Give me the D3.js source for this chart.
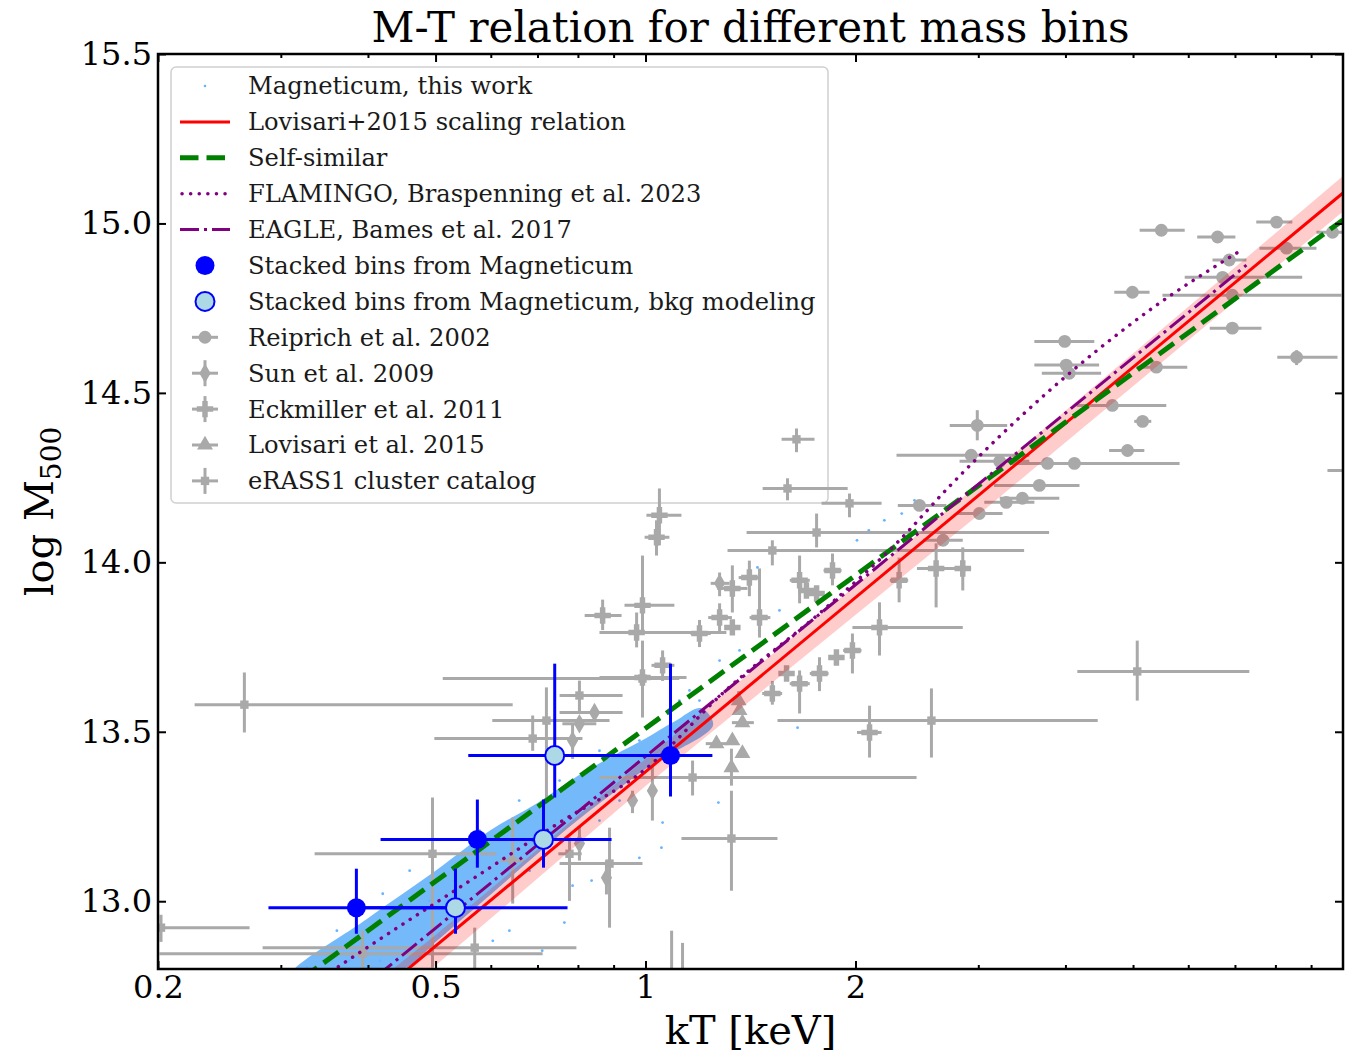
<!DOCTYPE html>
<html><head><meta charset="utf-8">
<script src="https://cdn.jsdelivr.net/npm/d3@7"></script>
<style>body{margin:0;background:#fff}text{font-family:"DejaVu Serif",serif}</style>
</head><body>
<svg id="chart" width="1345" height="1053"></svg>
<script>
// ---------------- DATA ----------------
const xMajorTicks = [0.2, 0.5, 1, 2];
const xMinorTicks = [0.3, 0.4, 0.6, 0.7, 0.8, 0.9, 3, 4, 5, 6, 7, 8, 9];
const yTicks = [13.0, 13.5, 14.0, 14.5, 15.0, 15.5];

// Lovisari+2015 scaling relation (kT, logM) and its band
const lovisariT = [0.2, 10];
const lovisariM = [12.188, 15.09];
const lovBandT  = [0.2, 0.5, 1, 3, 10];
const lovBandLo = [12.12, 12.81, 13.34, 14.14, 15.035];
const lovBandHi = [12.25, 12.90, 13.42, 14.23, 15.14];
// Self-similar
const selfSimT = [0.3, 10];
const selfSimM = [12.726, 15.01];
// FLAMINGO (dotted)
const flamingoT = [0.33, 0.4, 0.55, 0.75, 1.0, 1.3, 1.8, 2.3, 2.73, 5.28, 7.2];
const flamingoM = [12.75, 12.865, 13.05, 13.23, 13.39, 13.62, 13.86, 14.06, 14.225, 14.744, 14.925];
// EAGLE (dash-dot)
const eagleT = [0.38, 7.27];
const eagleM = [12.72, 14.877];

// Magneticum dense cloud outline (kT, logM)
const cloudUpperT = [0.31, 0.4, 0.5, 0.6, 0.7, 0.8, 0.9, 1.0, 1.1, 1.2];
const cloudUpperM = [12.78, 12.95, 13.09, 13.21, 13.29, 13.37, 13.43, 13.48, 13.53, 13.57];
const cloudLowerT = [1.25, 1.1, 1.0, 0.9, 0.8, 0.7, 0.6, 0.5, 0.45];
const cloudLowerM = [13.52, 13.44, 13.39, 13.32, 13.24, 13.14, 13.02, 12.88, 12.80];
// Magneticum sparse haloes
const magT = [0.361,0.327,0.42,0.638,0.604,0.711,0.765,0.786,0.837,0.98,1.054,1.058,1.272,1.652,1.447,2.01,2.33,2.09,2.20,2.43,1.195,1.156,1.277,1.364,1.456,1.556,1.718,0.532,0.49,0.474,0.507,0.56,0.682,0.859,0.918,0.416,0.376,0.352,0.389,0.459,0.578,0.659,0.753,0.859,0.98,1.047,1.118];
const magM = [12.913,12.804,13.022,12.913,12.883,12.854,12.937,13.046,13.061,13.128,13.158,13.232,13.291,13.512,13.985,14.065,14.144,14.094,14.124,14.183,13.592,13.622,13.71,13.74,13.799,13.858,13.917,13.061,13.001,12.84,12.898,12.987,13.09,13.238,13.297,12.824,12.824,12.839,12.972,13.09,13.208,13.297,13.356,13.444,13.474,13.459,13.592];

// Stacked bins: [kT, logM, kTlo, kThi, Mlo, Mhi]
const stackedBins = [
  [0.385, 12.981, 0.288, 0.52, 12.904, 13.096],
  [0.574, 13.182, 0.417, 0.72, 13.099, 13.300],
  [1.086, 13.430, 0.90, 1.247, 13.309, 13.701]
];
const stackedBinsBkg = [
  [0.534, 12.981, 0.385, 0.773, 12.904, 13.096],
  [0.714, 13.182, 0.57, 0.894, 13.099, 13.300],
  [0.741, 13.430, 0.557, 1.0, 13.306, 13.701]
];

// Observational samples: [kT, logM, kTlo, kThi, Mlo, Mhi]
const reiprich2002 = [
  [5.49,14.98,5.11,5.93,null,null],[6.61,14.96,6.18,7.01,null,null],[8.03,15.004,7.51,8.46,null,null],
  [4.99,14.797,4.70,5.28,null,null],[3.99,14.652,3.61,4.40,null,null],[6.94,14.691,6.44,7.64,null,null],
  [8.58,14.605,8.05,9.82,14.582,14.626],[5.40,14.576,5.06,5.98,null,null],[4.67,14.463,4.15,5.58,null,null],
  [5.16,14.416,5.02,5.31,null,null],[4.91,14.33,4.62,5.19,null,null],[6.87,14.892,6.50,7.27,null,null],
  [6.72,14.841,5.93,8.74,null,null],[6.94,14.788,5.51,9.95,null,null],[8.30,14.927,7.59,9.16,null,null],
  [9.66,14.974,9.16,10.56,null,null],[4.01,14.582,3.61,4.47,null,null],[4.05,14.558,3.70,4.50,null,null],
  [4.12,14.292,3.92,5.83,null,null],[3.77,14.292,3.33,3.99,null,null],[3.67,14.227,3.16,4.19,null,null],
  [3.29,14.177,3.06,3.61,null,null],[3.47,14.189,3.22,3.92,null,null],[2.99,14.404,2.73,3.30,14.36,14.449],
  [3.22,14.298,2.82,3.55,null,null],[10.56,14.271,9.50,12.05,null,null],[2.93,14.316,2.29,3.55,null,null],
  [2.47,14.168,2.30,2.70,null,null],[2.67,14.065,2.50,2.85,null,null],[3.01,14.144,2.80,3.25,null,null]
];
const sun2009 = [
  [0.786,13.474,null,null,13.42,13.52],[0.804,13.524,0.76,0.85,null,null],[0.845,13.557,0.753,0.927,null,null],
  [1.023,13.326,null,null,13.238,13.429],[0.958,13.297,null,null,13.26,13.326],[0.879,13.069,null,null,13.02,13.12],
  [0.804,13.17,null,null,13.12,13.22],[1.277,13.938,1.24,1.32,13.90,13.97]
];
const eckmiller2011 = [
  [1.047,14.139,1.003,1.126,14.05,14.218],[1.037,14.074,0.997,1.082,14.02,14.124],[0.99,13.873,0.933,1.10,13.79,14.02],
  [0.971,13.793,0.859,1.306,13.749,13.852],[0.99,13.66,0.859,1.145,13.613,13.734],[1.058,13.696,1.02,1.10,13.65,13.74],
  [0.868,13.843,0.818,0.924,13.80,13.89],[1.195,13.79,1.16,1.24,13.75,13.83],[1.332,13.923,1.268,1.40,13.852,13.991],
  [1.409,13.955,1.36,1.46,13.90,14.005],[1.457,13.837,1.41,1.51,13.778,13.982],[1.277,13.837,1.23,1.33,13.79,13.879],
  [1.332,13.808,null,null,null,null],[1.663,13.947,1.61,1.72,13.879,14.02],[1.701,13.917,null,null,null,null],
  [1.854,13.976,1.80,1.91,13.932,14.026],[1.759,13.908,null,null,null,null],[2.165,13.808,1.98,2.85,13.725,13.882],
  [2.31,13.947,2.24,2.38,13.882,14.014],[2.61,13.982,2.45,2.82,13.867,14.056],[2.85,13.982,2.77,2.93,13.917,14.044],
  [1.98,13.74,1.92,2.04,13.672,13.79],[1.878,13.719,null,null,null,null],[1.776,13.672,1.72,1.83,13.62,13.72],
  [1.663,13.642,1.61,1.72,13.554,13.681],[1.593,13.672,null,null,null,null],[1.52,13.613,1.47,1.57,13.58,13.65],
  [2.095,13.498,2.01,2.18,13.424,13.577]
];
const lovisari2015 = [
  [1.364,13.563,null,null,null,null],[1.377,13.527,1.33,1.43,null,null],[1.332,13.474,null,null,null,null],
  [1.264,13.465,1.22,1.31,null,null],[1.377,13.436,null,null,null,null],[1.328,13.394,null,null,13.341,13.45],
  [1.36,13.592,null,null,13.56,13.62]
];
const erass1 = [
  [0.266,13.58,0.2257,0.645,13.498,13.675],[0.202,12.922,0.1945,0.2706,12.88,12.96],
  [0.569,12.863,0.2825,0.796,12.795,12.922],[0.393,12.845,0.201,0.712,12.736,12.913],
  [0.495,13.14,0.3354,0.611,12.804,13.306],[0.689,13.48,0.498,0.812,13.444,13.548],
  [0.721,13.533,0.603,0.888,13.297,13.631],[0.99,13.657,0.512,1.118,13.542,13.769],
  [0.888,13.111,0.753,0.99,12.922,13.217],[0.778,13.14,0.75,0.81,13.001,13.188],
  [2.57,13.533,1.546,4.45,13.424,13.628],[5.07,13.678,4.16,7.34,13.592,13.769],
  [1.328,13.185,1.126,1.546,13.031,13.326],[1.168,13.365,0.859,2.447,13.312,13.415],
  [1.598,14.218,1.472,1.949,14.183,14.248],[1.961,14.174,1.788,2.18,14.133,14.203],
  [1.646,14.363,1.567,1.747,14.325,14.395],[1.759,14.088,1.396,3.79,14.044,14.144],
  [1.52,14.035,1.311,3.49,13.991,14.065],[1.09,12.736,null,null,12.558,12.913],
  [1.13,12.721,null,null,12.588,12.877],[0.645,13.12,0.62,0.67,12.993,13.247],
  [0.804,13.607,0.753,0.927,13.557,13.651]
];

const legendLabels = [
  "Magneticum, this work", "Lovisari+2015 scaling relation", "Self-similar",
  "FLAMINGO, Braspenning et al. 2023", "EAGLE, Bames et al. 2017",
  "Stacked bins from Magneticum", "Stacked bins from Magneticum, bkg modeling",
  "Reiprich et al. 2002", "Sun et al. 2009", "Eckmiller et al. 2011",
  "Lovisari et al. 2015", "eRASS1 cluster catalog"
];

// ---------------- CHART ----------------
const svg = d3.select("#chart");
const L = 158, R = 1343, T = 54, B = 969;
const x = d3.scaleLog().domain([0.2, 10]).range([L, R]);
const y = d3.scaleLinear().domain([12.8, 15.5]).range([B, T]);
const GRAY = "#a9a9a9";

svg.append("defs").append("clipPath").attr("id", "clip")
  .append("rect").attr("x", L).attr("y", T).attr("width", R - L).attr("height", B - T);

// Legend frame (drawn below the data so points behind it stay visible)
const lgBack = svg.append("g");
lgBack.append("rect").attr("x", 171).attr("y", 67).attr("width", 657).attr("height", 436).attr("rx", 5)
  .attr("fill", "#fff").attr("stroke", "#d0d0d0").attr("stroke-width", 1.5);

const plot = svg.append("g").attr("clip-path", "url(#clip)");

// Magneticum cloud
const cloudPts = cloudUpperT.map((t, i) => [t, cloudUpperM[i]])
  .concat(cloudLowerT.map((t, i) => [t, cloudLowerM[i]]));
plot.append("path")
  .attr("d", d3.line().x(d => x(d[0])).y(d => y(d[1])).curve(d3.curveCatmullRomClosed)(cloudPts))
  .attr("fill", "#51a8f7").attr("opacity", 0.8);
plot.selectAll("circle.mag").data(magT.map((t, i) => [t, magM[i]])).join("circle")
  .attr("class", "mag").attr("cx", d => x(d[0])).attr("cy", d => y(d[1])).attr("r", 1.4)
  .attr("fill", "#66b3ff");

// Observational points
function drawSet(data, sym, size) {
  const g = plot.append("g");
  data.forEach(d => {
    const [t, m, tlo, thi, mlo, mhi] = d;
    if (tlo != null) g.append("line").attr("x1", x(tlo)).attr("x2", x(thi)).attr("y1", y(m)).attr("y2", y(m))
      .attr("stroke", GRAY).attr("stroke-width", 3);
    if (mlo != null) g.append("line").attr("x1", x(t)).attr("x2", x(t)).attr("y1", y(mlo)).attr("y2", y(mhi))
      .attr("stroke", GRAY).attr("stroke-width", 3);
    g.append("path").attr("d", d3.symbol().type(sym).size(size)())
      .attr("transform", `translate(${x(t)},${y(m)})`).attr("fill", GRAY);
  });
}
drawSet(reiprich2002, d3.symbolCircle, 130);
drawSet(sun2009, d3.symbolDiamond, 110);
drawSet(eckmiller2011, d3.symbolCross, 150);
drawSet(lovisari2015, d3.symbolTriangle, 110);
drawSet(erass1, d3.symbolSquare, 70);

// Lovisari band + lines
plot.append("path")
  .attr("d", d3.area().x(d => x(d[0])).y0(d => y(d[1])).y1(d => y(d[2]))
    (lovBandT.map((t, i) => [t, lovBandLo[i], lovBandHi[i]])))
  .attr("fill", "red").attr("opacity", 0.2);
const ln = d3.line().x(d => x(d[0])).y(d => y(d[1]));
plot.append("path").attr("d", ln(lovisariT.map((t, i) => [t, lovisariM[i]])))
  .attr("fill", "none").attr("stroke", "red").attr("stroke-width", 3);
plot.append("path").attr("d", ln(selfSimT.map((t, i) => [t, selfSimM[i]])))
  .attr("fill", "none").attr("stroke", "green").attr("stroke-width", 5).attr("stroke-dasharray", "18.5,8");
plot.append("path").attr("d", d3.line().x(d => x(d[0])).y(d => y(d[1])).curve(d3.curveMonotoneX)(flamingoT.map((t, i) => [t, flamingoM[i]])))
  .attr("fill", "none").attr("stroke", "purple").attr("stroke-width", 3.5)
  .attr("stroke-dasharray", "0.1,8.5").attr("stroke-linecap", "round");
plot.append("path").attr("d", ln(eagleT.map((t, i) => [t, eagleM[i]])))
  .attr("fill", "none").attr("stroke", "purple").attr("stroke-width", 3).attr("stroke-dasharray", "19,5,3,5");

// Stacked bins
function drawBins(data, fill) {
  const g = plot.append("g");
  data.forEach(d => {
    const [t, m, tlo, thi, mlo, mhi] = d;
    g.append("line").attr("x1", x(tlo)).attr("x2", x(thi)).attr("y1", y(m)).attr("y2", y(m))
      .attr("stroke", "blue").attr("stroke-width", 3);
    g.append("line").attr("x1", x(t)).attr("x2", x(t)).attr("y1", y(mlo)).attr("y2", y(mhi))
      .attr("stroke", "blue").attr("stroke-width", 3);
  });
  data.forEach(d => {
    g.append("circle").attr("cx", x(d[0])).attr("cy", y(d[1])).attr("r", 9.5)
      .attr("fill", fill).attr("stroke", "blue").attr("stroke-width", fill === "blue" ? 0 : 2);
  });
}
drawBins(stackedBins, "blue");
drawBins(stackedBinsBkg, "#add8e6");

// Axes
const axG = svg.append("g");
const bottom = axG.append("g").attr("transform", `translate(0,${B})`)
  .call(d3.axisBottom(x).tickValues(xMajorTicks).tickFormat(d => String(d)).tickSize(-8).tickPadding(4));
axG.append("g").attr("transform", `translate(0,${B})`)
  .call(d3.axisBottom(x).tickValues(xMinorTicks).tickFormat("").tickSize(-4));
axG.append("g").attr("transform", `translate(0,${T})`)
  .call(d3.axisTop(x).tickValues(xMajorTicks).tickFormat("").tickSize(-8));
axG.append("g").attr("transform", `translate(0,${T})`)
  .call(d3.axisTop(x).tickValues(xMinorTicks).tickFormat("").tickSize(-4));
const left = axG.append("g").attr("transform", `translate(${L},0)`)
  .call(d3.axisLeft(y).tickValues(yTicks).tickFormat(d3.format(".1f")).tickSize(-8).tickPadding(8));
axG.append("g").attr("transform", `translate(${R},0)`)
  .call(d3.axisRight(y).tickValues(yTicks).tickFormat("").tickSize(-8));
axG.selectAll(".domain").remove();
axG.selectAll(".tick line").attr("stroke", "#000").attr("stroke-width", 2);
axG.selectAll(".tick text").attr("font-family", "DejaVu Serif").attr("font-size", 32).attr("fill", "#000");
bottom.selectAll(".tick text").attr("dy", "0.78em");
left.selectAll(".tick text").attr("x", -6);
svg.append("rect").attr("x", L).attr("y", T).attr("width", R - L).attr("height", B - T)
  .attr("fill", "none").attr("stroke", "#000").attr("stroke-width", 2.5);

// Labels
svg.append("text").attr("x", (L + R) / 2).attr("y", 42).attr("text-anchor", "middle")
  .attr("font-size", 42).text("M-T relation for different mass bins");
svg.append("text").attr("x", (L + R) / 2).attr("y", 1044).attr("text-anchor", "middle")
  .attr("font-size", 40).text("kT [keV]");
const yl = svg.append("text").attr("transform", `translate(53,${(T + B) / 2}) rotate(-90)`)
  .attr("text-anchor", "middle").attr("font-size", 40);
yl.append("tspan").text("log M");
yl.append("tspan").attr("font-size", 28).attr("dy", 8).text("500");

// Legend entries
const lg = svg.append("g");
const ly = i => 86 + i * 35.9;
legendLabels.forEach((t, i) => {
  lg.append("text").attr("x", 248).attr("y", ly(i)).attr("dy", "0.35em").attr("font-size", 24.2)
    .attr("fill", "#1a1a1a").text(t);
});
const hx0 = 180, hx1 = 230, hc = 205;
lg.append("circle").attr("cx", hc).attr("cy", ly(0)).attr("r", 1.3).attr("fill", "#66b3ff");
lg.append("line").attr("x1", hx0).attr("x2", hx1).attr("y1", ly(1)).attr("y2", ly(1)).attr("stroke", "red").attr("stroke-width", 3);
lg.append("line").attr("x1", hx0).attr("x2", hx1).attr("y1", ly(2)).attr("y2", ly(2)).attr("stroke", "green").attr("stroke-width", 5).attr("stroke-dasharray", "18.5,8");
lg.append("line").attr("x1", hx0 + 2).attr("x2", hx1).attr("y1", ly(3)).attr("y2", ly(3)).attr("stroke", "purple").attr("stroke-width", 3.5).attr("stroke-dasharray", "0.1,8.5").attr("stroke-linecap", "round");
lg.append("line").attr("x1", hx0).attr("x2", hx1).attr("y1", ly(4)).attr("y2", ly(4)).attr("stroke", "purple").attr("stroke-width", 3).attr("stroke-dasharray", "19,5,3,5");
lg.append("circle").attr("cx", hc).attr("cy", ly(5)).attr("r", 9.5).attr("fill", "blue");
lg.append("circle").attr("cx", hc).attr("cy", ly(6)).attr("r", 9.5).attr("fill", "#add8e6").attr("stroke", "blue").attr("stroke-width", 2);
const legSyms = [[d3.symbolCircle, 130, true, false], [d3.symbolDiamond, 110, true, true], [d3.symbolCross, 150, true, true], [d3.symbolTriangle, 110, true, false], [d3.symbolSquare, 70, true, true]];
legSyms.forEach((s, k) => {
  const cy = ly(7 + k);
  if (s[2]) lg.append("line").attr("x1", hc - 13).attr("x2", hc + 13).attr("y1", cy).attr("y2", cy).attr("stroke", GRAY).attr("stroke-width", 3);
  if (s[3]) lg.append("line").attr("x1", hc).attr("x2", hc).attr("y1", cy - 13).attr("y2", cy + 13).attr("stroke", GRAY).attr("stroke-width", 3);
  lg.append("path").attr("d", d3.symbol().type(s[0]).size(s[1])()).attr("transform", `translate(${hc},${cy})`).attr("fill", GRAY);
});
</script>
</body></html>
